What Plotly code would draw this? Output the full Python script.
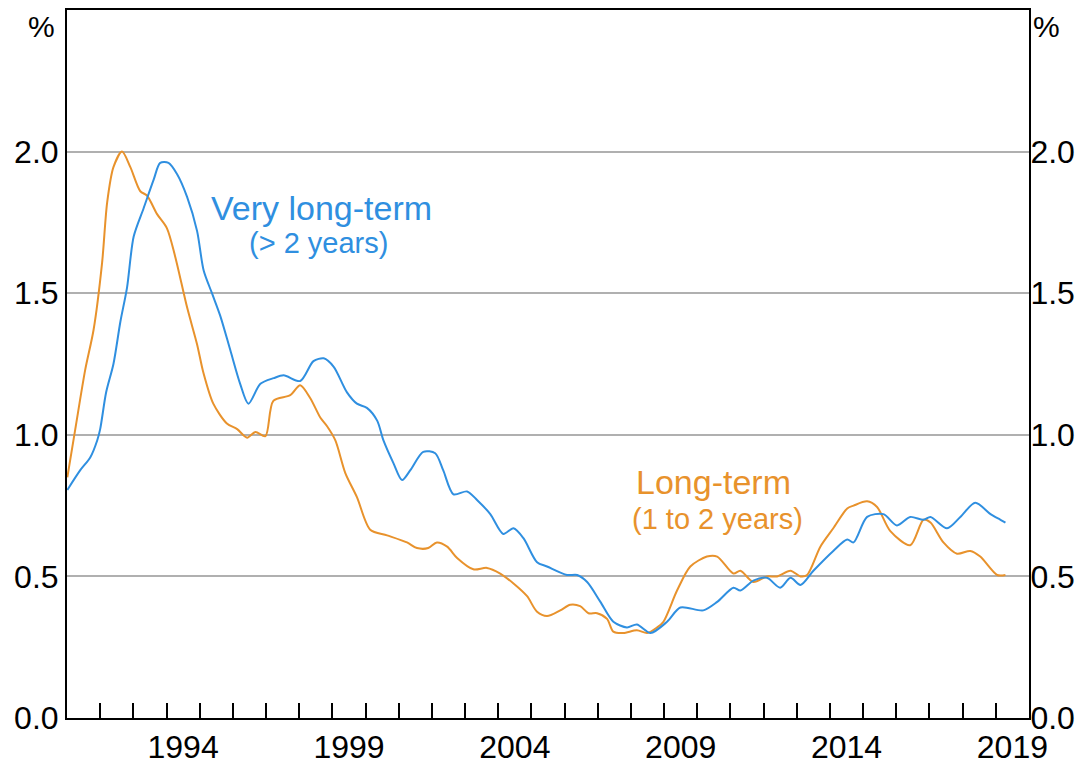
import plotly.graph_objects as go

# Very long-term unemployment rate (> 2 years), %
vlt_year = [1991.01, 1991.40, 1991.70, 1991.91, 1992.00, 1992.18, 1992.40, 1992.61, 1992.81, 1993.01,
            1993.31, 1993.61, 1993.81, 1994.06, 1994.32, 1994.62, 1994.92, 1995.12, 1995.37, 1995.62,
            1995.92, 1996.22, 1996.47, 1996.83, 1997.23, 1997.53, 1998.03, 1998.43, 1998.74, 1999.04,
            1999.44, 1999.74, 2000.04, 2000.35, 2000.54, 2000.84, 2001.10, 2001.35, 2001.74, 2002.10,
            2002.34, 2002.65, 2003.06, 2003.36, 2003.76, 2004.15, 2004.46, 2004.76, 2005.17, 2005.47,
            2006.07, 2006.38, 2006.68, 2007.08, 2007.47, 2007.88, 2008.18, 2008.59, 2009.09, 2009.49,
            2010.18, 2010.60, 2011.09, 2011.30, 2011.69, 2012.10, 2012.50, 2012.81, 2013.11, 2013.50,
            2014.10, 2014.52, 2014.71, 2015.12, 2015.61, 2016.02, 2016.42, 2016.82, 2017.03, 2017.53,
            2017.93, 2018.38, 2018.84, 2019.14, 2019.29]
vlt_rate = [0.805, 0.875, 0.92, 0.98, 1.02, 1.15, 1.25, 1.40, 1.52, 1.70,
            1.80, 1.90, 1.96, 1.96, 1.92, 1.84, 1.72, 1.58, 1.50, 1.42,
            1.30, 1.18, 1.11, 1.18, 1.20, 1.21, 1.19, 1.26, 1.27, 1.24,
            1.15, 1.11, 1.095, 1.05, 0.98, 0.90, 0.84, 0.875, 0.94, 0.935,
            0.875, 0.79, 0.80, 0.77, 0.72, 0.65, 0.67, 0.635, 0.55, 0.535,
            0.505, 0.505, 0.48, 0.41, 0.34, 0.32, 0.33, 0.30, 0.34, 0.39,
            0.38, 0.41, 0.46, 0.45, 0.485, 0.495, 0.46, 0.495, 0.47, 0.52,
            0.59, 0.63, 0.62, 0.71, 0.72, 0.68, 0.71, 0.70, 0.71, 0.67,
            0.71, 0.76, 0.72, 0.70, 0.69]

# Long-term unemployment rate (1 to 2 years), %
lt_year = [1991.01, 1991.25, 1991.55, 1991.80, 1992.06, 1992.21, 1992.40, 1992.66, 1992.91, 1993.21,
           1993.41, 1993.71, 1994.01, 1994.26, 1994.62, 1994.92, 1995.11, 1995.41, 1995.82, 1996.13,
           1996.43, 1996.68, 1996.98, 1997.22, 1997.73, 1998.03, 1998.33, 1998.64, 1998.84, 1999.09,
           1999.39, 1999.74, 2000.14, 2000.65, 2001.25, 2001.55, 2001.89, 2002.15, 2002.46, 2002.76,
           2003.25, 2003.66, 2004.06, 2004.46, 2004.87, 2005.17, 2005.47, 2005.87, 2006.17, 2006.47,
           2006.72, 2006.98, 2007.28, 2007.47, 2007.77, 2008.18, 2008.49, 2008.79, 2008.98, 2009.39,
           2009.79, 2010.29, 2010.60, 2011.09, 2011.30, 2011.69, 2012.10, 2012.40, 2012.81, 2013.11,
           2013.31, 2013.71, 2014.10, 2014.52, 2014.71, 2015.12, 2015.42, 2015.82, 2016.42, 2016.82,
           2017.03, 2017.42, 2017.83, 2018.23, 2018.53, 2019.04, 2019.29]
lt_rate = [0.85, 1.02, 1.23, 1.37, 1.61, 1.82, 1.945, 2.00, 1.945, 1.86,
           1.845, 1.78, 1.73, 1.63, 1.45, 1.32, 1.22, 1.11, 1.04, 1.02,
           0.99, 1.01, 0.995, 1.12, 1.14, 1.175, 1.13, 1.06, 1.03, 0.98,
           0.865, 0.78, 0.665, 0.645, 0.62, 0.60, 0.60, 0.62, 0.605, 0.565,
           0.525, 0.53, 0.51, 0.475, 0.43, 0.375, 0.36, 0.38, 0.40, 0.395,
           0.37, 0.37, 0.35, 0.305, 0.30, 0.31, 0.30, 0.32, 0.34, 0.45,
           0.535, 0.57, 0.57, 0.51, 0.52, 0.48, 0.50, 0.50, 0.52, 0.50,
           0.505, 0.605, 0.67, 0.74, 0.75, 0.765, 0.745, 0.66, 0.61, 0.70,
           0.69, 0.62, 0.58, 0.59, 0.57, 0.505, 0.505]

year_ticks = list(range(1992, 2020))
label_years = [1994, 1999, 2004, 2009, 2014, 2019]
y_ticks = [0.0, 0.5, 1.0, 1.5, 2.0]

BLUE = "#2f8fe0"
ORANGE = "#e8922c"
FONT = "Arial, Liberation Sans, sans-serif"

fig = go.Figure()
fig.add_trace(go.Scatter(x=lt_year, y=lt_rate, mode="lines",
                         line=dict(color=ORANGE, width=2, shape="spline", smoothing=0.8),
                         showlegend=False, yaxis="y"))
fig.add_trace(go.Scatter(x=vlt_year, y=vlt_rate, mode="lines",
                         line=dict(color=BLUE, width=2, shape="spline", smoothing=0.8),
                         showlegend=False, yaxis="y2"))

yax = dict(range=[0, 2.5], tickmode="array", tickvals=y_ticks,
           ticktext=[f"{v:.1f}" for v in y_ticks], ticks="",
           tickfont=dict(family=FONT, size=32, color="black"),
           showline=True, linecolor="black", linewidth=2, mirror=True,
           zeroline=False, fixedrange=True, automargin=False)

# page body has an 8px default margin, so the figure is sized/offset to compensate
fig.update_layout(
    width=1076, height=764,
    margin=dict(l=59, r=55, t=2, b=54, autoexpand=False),
    paper_bgcolor="white", plot_bgcolor="white",
    xaxis=dict(range=[1991, 2020], tickmode="array",
               tickvals=[y + 0.5 for y in label_years],
               ticktext=[str(y) for y in label_years], ticks="",
               tickfont=dict(family=FONT, size=32, color="black"),
               showgrid=False, zeroline=False, automargin=False,
               showline=True, linecolor="black", linewidth=2, mirror=True,
               minor=dict(tickmode="array", tickvals=year_ticks, ticks="inside",
                          ticklen=15, tickwidth=2, tickcolor="black", showgrid=False)),
    yaxis=dict(**yax, side="left", showgrid=True, gridcolor="#b0b0b0", gridwidth=1.5),
    yaxis2=dict(**yax, side="right", overlaying="y", showgrid=False, ticklabelstandoff=-7),
    annotations=[
        dict(text="%", xref="paper", yref="paper", x=-0.01, y=0.976, xanchor="right",
             yanchor="middle", showarrow=False, font=dict(family=FONT, size=30, color="black")),
        dict(text="%", xref="paper", yref="paper", x=1.002, y=0.976, xanchor="left",
             yanchor="middle", showarrow=False, font=dict(family=FONT, size=30, color="black")),
        dict(text="Very long-term", x=1998.67, y=1.80, xref="x", yref="y", showarrow=False,
             font=dict(family=FONT, size=34, color=BLUE)),
        dict(text="(> 2 years)", x=1998.58, y=1.677, xref="x", yref="y", showarrow=False,
             font=dict(family=FONT, size=29, color=BLUE)),
        dict(text="Long-term", x=2010.48, y=0.833, xref="x", yref="y", showarrow=False,
             font=dict(family=FONT, size=34, color=ORANGE)),
        dict(text="(1 to 2 years)", x=2010.6, y=0.703, xref="x", yref="y", showarrow=False,
             font=dict(family=FONT, size=29, color=ORANGE)),
    ],
)

fig.write_html("out.html")
